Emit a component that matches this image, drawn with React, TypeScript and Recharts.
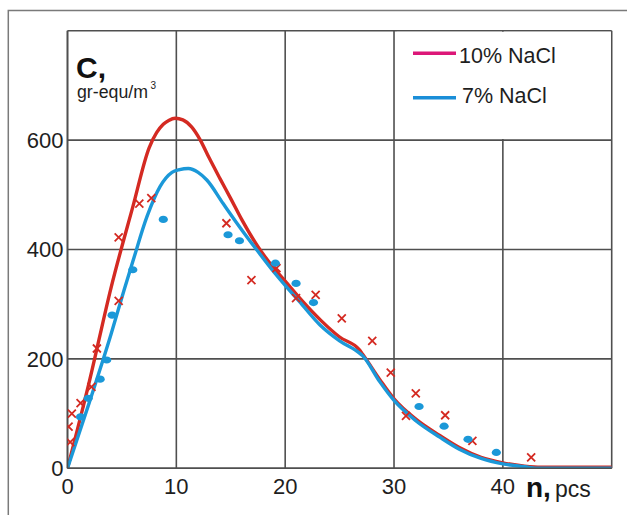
import React from 'react';
import { ComposedChart, Line, Scatter, XAxis, YAxis, CartesianGrid } from 'recharts';

// ---- data ----
const xTicks = [0, 10, 20, 30, 40, 50];
const yTicks = [0, 200, 400, 600, 800];
const hiddenXTick = 50;
const hiddenYTick = 800;

const seriesNames = ['10% NaCl', '7% NaCl'];

// 10% NaCl fitted curve
const curve10N = [0, 2, 4, 6, 7.5, 8.2, 8.8, 9.3, 9.9, 10.6, 11.4, 12.2, 13, 14, 15, 16, 17.5, 19, 20.1, 21.3, 23.3, 25, 26.8, 27.1, 28.7, 30, 32, 34.2, 36, 38, 40, 42, 43.5, 50];
const curve10C = [0, 158, 330, 478, 586, 614, 629, 636, 640, 637, 624, 600, 568, 530, 493, 455, 405, 365, 340, 312, 270, 240, 217, 209, 162, 127, 90, 60, 38, 20, 10, 4, 2, 2];

// 7% NaCl fitted curve
const curve7N = [0, 2, 4, 5.2, 6, 7.3, 8.5, 9.6, 10.3, 11.1, 12, 12.8, 14.3, 15.5, 17.4, 19, 20.1, 21.3, 23.2, 25, 26.8, 27.1, 28.7, 30, 32, 34.2, 36, 38, 40, 42, 43.3, 50];
const curve7C = [0, 120, 245, 326, 378, 460, 515, 541, 546, 548, 541, 527, 484, 450, 399, 358, 332, 305, 262, 233, 211, 206, 158, 124, 87, 57, 35, 18, 8, 3, 0, 0];

// 10% NaCl measured points (crosses)
const points10N = [0.1, 0.4, 0.25, 1.2, 2.2, 2.7, 4.7, 4.7, 6.6, 7.7, 14.6, 16.9, 19.2, 21.0, 22.8, 25.2, 28.0, 29.7, 31.1, 32.0, 34.7, 37.2, 42.6];
const points10C = [76, 100, 48, 119, 149, 219, 306, 422, 484, 494, 448, 344, 366, 311, 317, 274, 233, 175, 96, 137, 97, 50, 20];

// 7% NaCl measured points (dots)
const points7N = [1.2, 1.9, 3.0, 3.6, 4.1, 6.0, 8.8, 14.75, 15.8, 19.1, 21.0, 22.6, 32.3, 34.6, 36.8, 39.4];
const points7C = [94, 128, 163, 198, 280, 363, 455, 427, 416, 375, 338, 303, 113, 77, 53, 29];

const zip = (ns: number[], cs: number[]) => ns.map((n, i) => ({ n, c: cs[i] }));
const curve10 = zip(curve10N, curve10C);
const curve7 = zip(curve7N, curve7C);
const points10 = zip(points10N, points10C);
const points7 = zip(points7N, points7C);

// ---- styles ----
const RED = '#d42a22';
const BLUE = '#1b98d8';
const LEGEND_RED = '#dc1778';
const LEGEND_BLUE = '#1a8ed8';
const GRID = '#4f4f4f';
const FONT = '"Liberation Sans", Arial, sans-serif';

const Cross = (props: any) => {
  const { cx, cy } = props;
  if (cx == null || cy == null) return null;
  const s = 4;
  return (
    <path
      d={`M${cx - s},${cy - s}L${cx + s},${cy + s}M${cx + s},${cy - s}L${cx - s},${cy + s}`}
      stroke={RED}
      strokeWidth={1.8}
      fill="none"
    />
  );
};

const Dot = (props: any) => {
  const { cx, cy } = props;
  if (cx == null || cy == null) return null;
  return <ellipse cx={cx} cy={cy} rx={4.6} ry={3.6} fill={BLUE} />;
};

export default function App() {
  return (
    <div style={{ position: 'relative', width: 627, height: 515, background: '#fff', overflow: 'hidden' }}>
      <style>{'html,body{margin:0;padding:0;overflow:hidden;background:#fff}'}</style>
      <ComposedChart
        width={627}
        height={515}
        margin={{ top: 30.7, right: 15.3, left: 7.5, bottom: 16.7 }}
      >
        <CartesianGrid stroke={GRID} strokeWidth={1.6} />
        <XAxis
          type="number"
          dataKey="n"
          domain={[0, 50]}
          ticks={xTicks}
          interval={0}
          height={30}
          tickLine={false}
          tickSize={0}
          tickMargin={10}
          axisLine={{ stroke: GRID, strokeWidth: 1.6 }}
          tick={{ fill: '#1e1e1e', fontSize: 22, fontFamily: FONT }}
          tickFormatter={(v: number) => (v === hiddenXTick ? '' : String(v))}
          allowDataOverflow
        />
        <YAxis
          type="number"
          dataKey="c"
          domain={[0, 800]}
          ticks={yTicks}
          interval={0}
          width={60}
          tickLine={false}
          tickSize={0}
          tickMargin={4}
          axisLine={{ stroke: GRID, strokeWidth: 1.6 }}
          tick={{ fill: '#1e1e1e', fontSize: 22, fontFamily: FONT }}
          tickFormatter={(v: number) => (v === hiddenYTick ? '' : String(v))}
          allowDataOverflow
        />
        <Line
          data={curve10}
          dataKey="c"
          name={seriesNames[0]}
          type="monotone"
          stroke={RED}
          strokeWidth={3.4}
          dot={false}
          activeDot={false}
          isAnimationActive={false}
        />
        <Line
          data={curve7}
          dataKey="c"
          name={seriesNames[1]}
          type="monotone"
          stroke={BLUE}
          strokeWidth={3.4}
          dot={false}
          activeDot={false}
          isAnimationActive={false}
        />
        <Scatter data={points10} dataKey="c" shape={<Cross />} isAnimationActive={false} />
        <Scatter data={points7} dataKey="c" shape={<Dot />} isAnimationActive={false} />
      </ComposedChart>

      <svg
        width={627}
        height={515}
        style={{ position: 'absolute', left: 0, top: 0, pointerEvents: 'none' }}
      >
        {/* outer frame */}
        <path d="M8.3,515L8.3,10.5L627,10.5" stroke="#7a7a7a" strokeWidth={1.5} fill="none" />
        {/* legend box */}
        <rect x={396.8} y={31.8} width={214} height={107.2} fill="#fff" />
        <line x1={413} x2={456} y1={53.3} y2={53.3} stroke={LEGEND_RED} strokeWidth={3.4} />
        <text x={459} y={63.3} fontSize={21.5} fontFamily={FONT} fill="#1e1e1e">{seriesNames[0]}</text>
        <line x1={413} x2={456} y1={97.7} y2={97.7} stroke={LEGEND_BLUE} strokeWidth={3.4} />
        <text x={462} y={103.3} fontSize={21.5} fontFamily={FONT} fill="#1e1e1e">{seriesNames[1]}</text>
        {/* y-axis title */}
        <text x={76} y={78} fontSize={30} fontWeight="bold" fontFamily={FONT} fill="#111">C,</text>
        <text x={77} y={97.5} fontSize={17.5} fontFamily={FONT} fill="#1e1e1e" textLength={71} lengthAdjust="spacingAndGlyphs">gr-equ/m</text>
        <text x={150.5} y={89} fontSize={10} fontFamily={FONT} fill="#1e1e1e">3</text>
        {/* x-axis title */}
        <text x={526} y={496.5} fontSize={28} fontWeight="bold" fontFamily={FONT} fill="#111">n,</text>
        <text x={555} y={496.5} fontSize={23} fontFamily={FONT} fill="#1e1e1e">pcs</text>
      </svg>
    </div>
  );
}
